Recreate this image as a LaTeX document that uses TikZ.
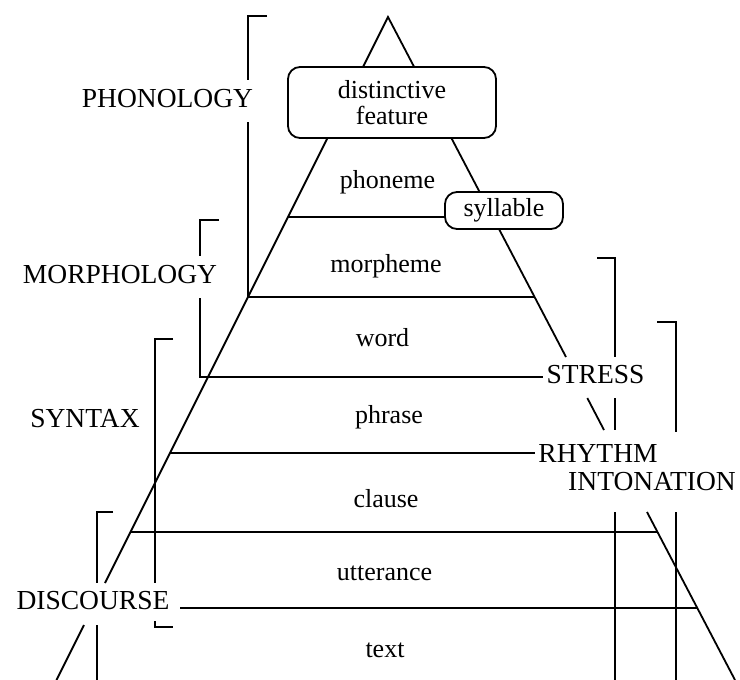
\documentclass[tikz,border=0pt]{standalone}
\usepackage{fontspec}
\setmainfont{Liberation Serif}
\begin{document}
\begin{tikzpicture}[x=1pt,y=-1pt,
  ln/.style={draw=black, line width=1.8pt, line join=miter},
  lc/.style={font=\fontsize{26}{26}\selectfont, inner sep=0pt, anchor=base},
  uc/.style={font=\fontsize{27.5}{29}\selectfont, inner xsep=3pt, inner ysep=0pt, anchor=base},
  rbox/.style={draw=black, line width=1.8pt, rounded corners=12pt, fill=white, inner sep=0pt,
               font=\fontsize{26}{26}\selectfont, align=center}]
\useasboundingbox (0,0) rectangle (740,680);

% level heights
\coordinate (ymorph) at (0,297);
\coordinate (yword) at (0,377);
\coordinate (yphrase) at (0,453);
\coordinate (yclause) at (0,532);
\coordinate (yutt) at (0,608);

% pyramid corners and gaps
\coordinate (apex) at (388,17);
\coordinate (L1) at (105,583);
\coordinate (L2) at (84,625);
\coordinate (Lbot) at (56.5,680);
\coordinate (R1) at (566,357);
\coordinate (R2) at (587.3,398);
\coordinate (R3) at (604,430);
\coordinate (R4) at (647,512);
\coordinate (Rbot) at (735,680);

% labels (caps)
\node[uc] (phon) at (167.5,107) {PHONOLOGY};
\node[uc] (morph) at (120,283) {MORPHOLOGY};
\node[uc] (syn) at (85,427) {SYNTAX};
\node[uc] (disc) at (93,609) {DISCOURSE};
\node[uc] (stress) at (595.5,383) {STRESS};
\node[uc] (rhythm) at (598,462) {RHYTHM};
\node[uc] (inton) at (652,490) {INTONATION};

% level labels
\node[lc] (phoneme) at (387.5,188) {phoneme};
\node[lc] (morpheme) at (386,272) {morpheme};
\node[lc] (word) at (382.5,346) {word};
\node[lc] (phrase) at (389,423) {phrase};
\node[lc] (clause) at (386,507) {clause};
\node[lc] (utter) at (384.5,580) {utterance};
\node[lc] (textl) at (385,657) {text};

% pyramid sides
\draw[ln] (L1) -- (apex) -- (R1);
\draw[ln] (R2) -- (R3);
\draw[ln] (R4) -- (Rbot);
\draw[ln] (L2) -- (Lbot);

% level lines
\coordinate (phL) at (287.5,217);
\coordinate (phR) at (470,217);
\draw[ln] (phL) -- (phR);
\coordinate (moL) at (248,297);
\coordinate (moR) at (534.4,297);
\draw[ln] (moL) -- (moR);
\coordinate (phrL) at (170,453);
\draw[ln] (phrL) -- (rhythm.west |- yphrase);
\coordinate (clL) at (130.5,532);
\coordinate (clR) at (657,532);
\draw[ln] (clL) -- (clR);
\coordinate (utL) at (180,608);
\coordinate (utR) at (697,608);
\draw[ln] (utL) -- (utR);

% PHONOLOGY bracket
\coordinate (pa) at (267,16);
\coordinate (pb) at (248,16);
\coordinate (pc) at (248,80);
\coordinate (pd) at (248,122);
\draw[ln] (pa) -- (pb) -- (pc);
\draw[ln] (pd) -- (moL);

% MORPHOLOGY bracket
\coordinate (ma) at (219,220);
\coordinate (mb) at (200,220);
\coordinate (mc) at (200,256);
\coordinate (md) at (200,298);
\coordinate (me) at (200,377);
\draw[ln] (ma) -- (mb) -- (mc);
\draw[ln] (md) -- (me) -- (stress.west |- yword);

% SYNTAX bracket
\coordinate (sa) at (173,339);
\coordinate (sb) at (155,339);
\coordinate (sc) at (155,583);
\coordinate (sd) at (155,621);
\coordinate (se) at (155,627);
\coordinate (sf) at (173,627);
\draw[ln] (sa) -- (sb) -- (sc);
\draw[ln] (sd) -- (se) -- (sf);

% DISCOURSE bracket
\coordinate (da) at (113,512);
\coordinate (db) at (97,512);
\coordinate (dc) at (97,583);
\coordinate (dd) at (97,625);
\coordinate (de) at (97,680);
\draw[ln] (da) -- (db) -- (dc);
\draw[ln] (dd) -- (de);

% STRESS bracket
\coordinate (ta) at (597,258);
\coordinate (tb) at (615,258);
\coordinate (tc) at (615,357);
\coordinate (td) at (615,398);
\coordinate (te) at (615,430);
\coordinate (tf) at (615,512);
\coordinate (tg) at (615,680);
\draw[ln] (ta) -- (tb) -- (tc);
\draw[ln] (td) -- (te);
\draw[ln] (tf) -- (tg);

% INTONATION bracket
\coordinate (ia) at (657,322);
\coordinate (ib) at (676,322);
\coordinate (ic) at (676,432);
\coordinate (id) at (676,512);
\coordinate (ie) at (676,680);
\draw[ln] (ia) -- (ib) -- (ic);
\draw[ln] (id) -- (ie);

% boxes
\node[rbox, minimum width=208pt, minimum height=71pt] (df) at (392,102.5) {distinctive\\feature};
\node[rbox, minimum width=118pt, minimum height=37pt] (syl) at (504,210.5) {syllable};
\end{tikzpicture}
\end{document}
